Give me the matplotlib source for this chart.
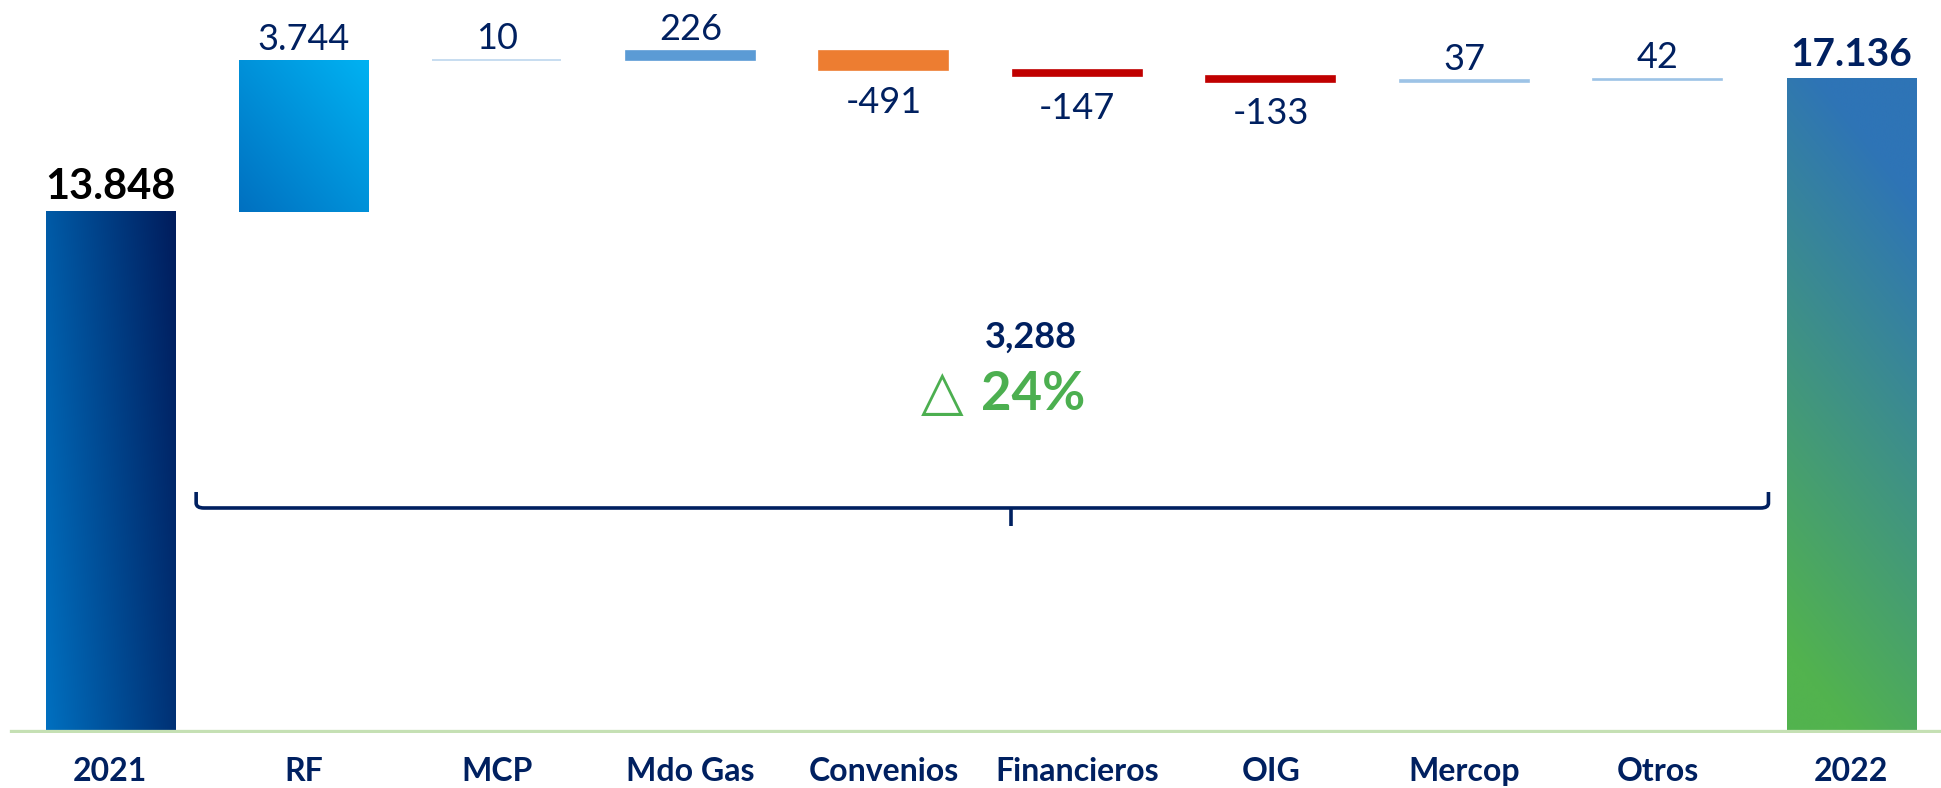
import numpy as np
import matplotlib
matplotlib.use("Agg")
import matplotlib.pyplot as plt
from matplotlib.colors import to_rgb
from matplotlib.path import Path
from matplotlib.patches import PathPatch

# ---------------- data ----------------
categories = ["2021", "RF", "MCP", "Mdo Gas", "Convenios", "Financieros", "OIG", "Mercop", "Otros", "2022"]
start_value = 13848
deltas = [3744, 10, 226, -491, -147, -133, 37, 42]
end_value = 17136
delta_labels = ["3.744", "10", "226", "-491", "-147", "-133", "37", "42"]
start_label = "13.848"
end_label = "17.136"
total_change_label = "3,288"
pct_change_label = "24%"

# ---------------- style ----------------
NAVY = "#002060"
GREEN = "#4CAF50"
delta_colors = ["#00A0E0", "#BDD7EE", "#5B9BD5", "#ED7D31", "#C00000", "#C00000", "#9DC3E6", "#9DC3E6"]

fig = plt.figure(figsize=(19.41, 7.88), dpi=100)
ax = fig.add_axes([0, 55 / 788, 1, 733 / 788])

YMIN, YMAX = 976, 19075
ax.set_xlim(-0.569, 9.465)
ax.set_ylim(YMIN, YMAX)

n = len(categories)
x = np.arange(n)
width = 0.667

# waterfall geometry derived from data
cum = start_value + np.cumsum([0] + deltas[:-1])
bottoms = [0] + [c + min(d, 0) for c, d in zip(cum, deltas)] + [0]
heights = [start_value] + [abs(d) for d in deltas] + [end_value]
colors = ["none"] + delta_colors + ["none"]

bars = ax.bar(x, heights, bottom=bottoms, width=width, color=colors, zorder=2)
for i in range(1, n - 1):
    bars[i].set_edgecolor(delta_colors[i - 1])
    bars[i].set_linewidth(1.2)
bars[0].set_edgecolor("none")
bars[-1].set_edgecolor("none")


def gradient_fill(patch, c0, c1, wx, wy, lo=0.0, hi=1.0):
    bx, by = patch.get_x(), patch.get_y()
    bw, bh = patch.get_width(), patch.get_height()
    y0 = max(by, YMIN)
    y1 = by + bh
    N = 200
    X, Y = np.meshgrid(np.linspace(0, 1, N), np.linspace(0, 1, N))
    t = (wx * X + wy * Y) / (wx + wy)
    t = np.clip((t - lo) / (hi - lo), 0, 1)
    a = np.array(to_rgb(c0))
    b = np.array(to_rgb(c1))
    img = a[None, None, :] * (1 - t[..., None]) + b[None, None, :] * t[..., None]
    ax.imshow(img, extent=(bx, bx + bw, y0, y1), origin="lower",
              aspect="auto", zorder=2, interpolation="bilinear")


gradient_fill(bars[0], "#0070C0", "#001C5C", 0.75, 0.25)
gradient_fill(bars[1], "#0070C0", "#00B2F2", 0.5, 0.5)
gradient_fill(bars[-1], "#52B34E", "#2E74B6", 0.2, 0.8, 0.1, 0.85)
bars[1].set_facecolor("none")
bars[1].set_edgecolor("none")

ax.set_xlim(-0.569, 9.465)
ax.set_ylim(YMIN, YMAX)

# baseline
ax.axhline(1010, xmin=12 / 1941, xmax=1, color="#C5E0B4", lw=3.8, zorder=3)

# value labels
ax.annotate(start_label, (x[0], start_value), xytext=(0, 4), textcoords="offset points",
            ha="center", va="bottom", fontsize=30, fontweight="bold", color="black", family="Lato")
ax.annotate(end_label, (x[-1], end_value), xytext=(0, 5), textcoords="offset points",
            ha="center", va="bottom", fontsize=28, fontweight="bold", color=NAVY, family="Lato")
for i, (d, lab) in enumerate(zip(deltas, delta_labels)):
    top = bottoms[i + 1] + heights[i + 1]
    bot = bottoms[i + 1]
    if d >= 0:
        ax.annotate(lab, (x[i + 1], top), xytext=(0, 3), textcoords="offset points",
                    ha="center", va="bottom", fontsize=26, color=NAVY, family="Lato")
    else:
        ax.annotate(lab, (x[i + 1], bot), xytext=(0, -11), textcoords="offset points",
                    ha="center", va="top", fontsize=26, color=NAVY, family="Lato")

# category labels
ax.set_xticks(x)
ax.set_xticklabels(categories, fontsize=23, fontweight="bold", color=NAVY, family="Lato")
ax.tick_params(axis="x", length=0, pad=17)
ax.set_yticks([])
for s in ax.spines.values():
    s.set_visible(False)

# bracket
xl, xr, xc = 0.445, 8.573, 4.659
y_line, y_top, y_tip = 6532, 6927, 6087
r = 0.04
ry = 120
verts = [(xl, y_top), (xl, y_line + ry), (xl, y_line), (xl + r, y_line),
         (xr - r, y_line), (xr, y_line), (xr, y_line + ry), (xr, y_top)]
codes = [Path.MOVETO, Path.LINETO, Path.CURVE3, Path.CURVE3,
         Path.LINETO, Path.CURVE3, Path.CURVE3, Path.LINETO]
ax.add_patch(PathPatch(Path(verts, codes), fill=False, edgecolor=NAVY, lw=2.6, zorder=4,
                       capstyle="butt", joinstyle="round"))
ax.plot([xc, xc], [y_line, y_tip], color=NAVY, lw=2.6, zorder=4, solid_capstyle="butt")

# summary texts
ax.text(4.76, 10752, total_change_label, ha="center", va="center", fontsize=26,
        fontweight="bold", color=NAVY, family="Lato")
ax.text(4.30, 9345, "\u25B3", ha="center", va="center", fontsize=40, color=GREEN, family="DejaVu Sans")
ax.text(4.50, 9345, pct_change_label, ha="left", va="center", fontsize=38,
        fontweight="bold", color=GREEN, family="Lato")

fig.savefig("out.png", dpi=100)
